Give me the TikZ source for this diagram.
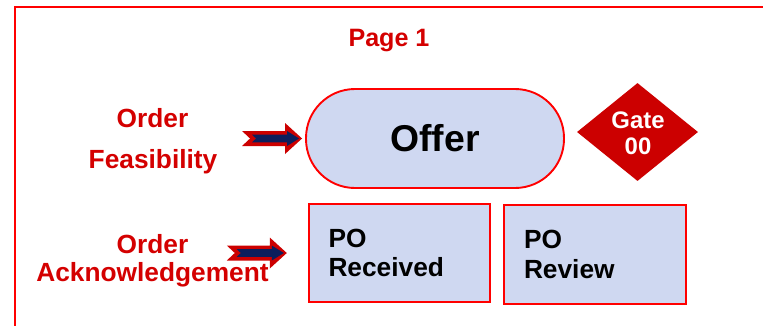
\documentclass[tikz,border=0pt]{standalone}
\usepackage{fontspec}
\setmainfont{Liberation Sans}
\usetikzlibrary{shapes.geometric}

\definecolor{framered}{RGB}{255,0,0}
\definecolor{labelred}{RGB}{212,0,0}
\definecolor{gatered}{RGB}{204,0,0}
\definecolor{boxfill}{RGB}{207,216,241}
\definecolor{arrownavy}{RGB}{12,30,92}

\tikzset{
  frame/.style={draw=framered, line width=2bp},
  outline/.style={draw=framered, line width=1.9bp},
  stage/.style={font=\bfseries\fontsize{26.4}{28}\selectfont, text=labelred, anchor=base},
  pagetitle/.style={font=\bfseries\fontsize{25.2}{28}\selectfont, text=labelred, anchor=base},
  offerbox/.style={outline, fill=boxfill, text=black,
    minimum width=258bp, minimum height=99bp, rounded corners=49bp,
    inner sep=0pt, font=\bfseries\fontsize{37.5}{40}\selectfont},
  pobox/.style={fill=boxfill, text=black,
    minimum height=98bp, text width=142bp, inner xsep=19.5bp, inner ysep=0pt,
    align=left, font=\bfseries\fontsize{26.4}{29.5}\selectfont},
  gate/.style={shape=diamond, fill=gatered, minimum width=121bp,
    minimum height=98bp, inner sep=0pt},
  gatetext/.style={text=white, align=center, inner sep=0pt,
    font=\bfseries\fontsize{24}{26.5}\selectfont},
  blockarrow/.pic={
    % red outer arrow with notched tail, tip at the origin
    \fill[gatered] (-60,7.5) -- (-17,7.5) -- (-17,15.5) -- (0,0) -- (-17,-15.5)
      -- (-17,-7.5) -- (-60,-7.5) -- (-52,0) -- cycle;
    % navy inner arrow
    \fill[arrownavy] (-50,3.8) -- (-15,3.8) -- (-15,7.5) -- (-3,0) -- (-15,-7.5)
      -- (-15,-3.8) -- (-50,-3.8) -- (-46,0) -- cycle;
  }
}

\begin{document}
\begin{tikzpicture}[x=1bp, y=-1bp]
  \useasboundingbox (0,0) rectangle (763,326);

  % open page frame along the top and left edges
  \draw[frame] (763,6.5) -- (14.5,6.5) -- (14.5,326);

  \node[pagetitle] (title) at (389,46) {Page 1};

  % stage labels
  \node[stage] (ord1) at (152.5,127) {Order};
  \node[stage] (feas) at (153,168) {Feasibility};
  \node[stage] (ord2) at (152.5,253) {Order};
  \node[stage] (ack)  at (152.5,281.5) {Acknowledgement};

  % process steps
  \node[offerbox] (offer) at (435,138.5) {Offer};
  \node[gate] (gate) at (637.5,132) {};
  \node[gatetext] (gatelbl) at (638,133) {Gate\\00};

  \node[pobox, minimum width=181bp] (porec) at (399.5,253) {PO\\Received};
  \node[pobox, minimum width=181bp] (porev) at (595,254.5) {PO\\Review};

  % red outlines of the two PO steps
  \draw[outline, line width=2.3bp] (porec.north west) rectangle (porec.south east);
  \draw[outline, line width=2.3bp] (porev.north west) rectangle (porev.south east);

  % block arrows pointing into the steps
  \pic at ([xshift=-3bp]offer.west) {blockarrow};
  \pic at ([xshift=-22bp]porec.west) {blockarrow};
\end{tikzpicture}
\end{document}
